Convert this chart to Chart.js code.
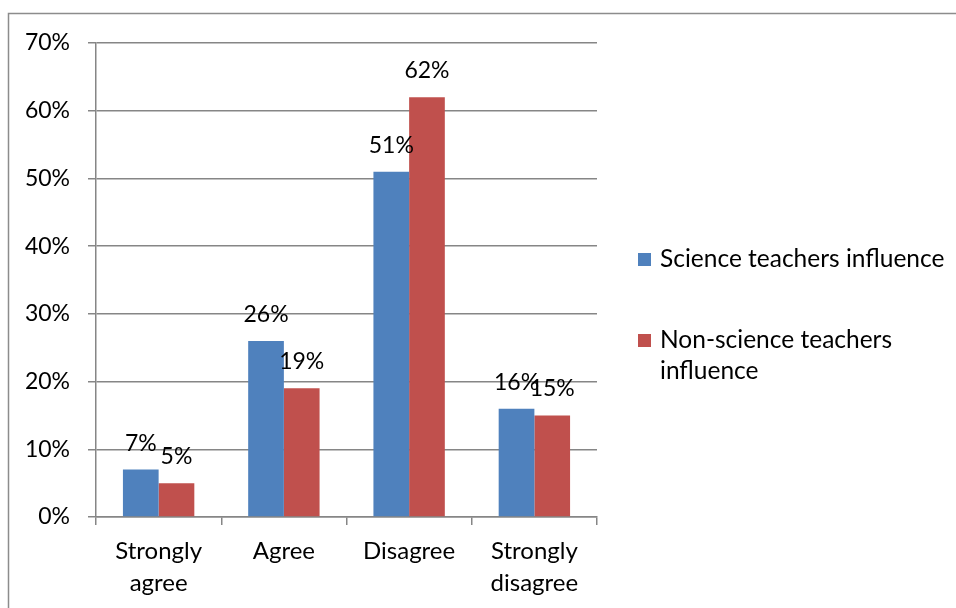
<!DOCTYPE html>
<html>
<head>
<meta charset="utf-8">
<script src="https://cdn.jsdelivr.net/npm/chart.js@4.4.0/dist/chart.umd.min.js"></script>
<style>
  html, body { margin: 0; padding: 0; background: #fff; }
  #wrap { position: relative; width: 956px; height: 608px; }
</style>
</head>
<body>
<div id="wrap"><canvas id="c" width="956" height="608"></canvas></div>
<script>
const categories = [["Strongly", "agree"], "Agree", "Disagree", ["Strongly", "disagree"]];
const seriesNames = ["Science teachers influence", "Non-science teachers influence"];
const legendLines = [["Science teachers influence"], ["Non-science teachers", "influence"]];
const scienceValues = [0.07, 0.26, 0.51, 0.16];
const nonScienceValues = [0.05, 0.19, 0.62, 0.15];
const yTicks = [0, 0.1, 0.2, 0.3, 0.4, 0.5, 0.6, 0.7];
const colors = ["#4F81BD", "#C0504D"];

const FONT = "Lato, 'Open Sans', sans-serif";
const GRID = "#868686";

const framePlugin = {
  id: 'frame',
  beforeDraw(chart) {
    const ctx = chart.ctx;
    ctx.save();
    ctx.fillStyle = '#fff';
    ctx.fillRect(0, 0, chart.width, chart.height);
    ctx.strokeStyle = '#8c8c8c';
    ctx.lineWidth = 1.5;
    ctx.strokeRect(8.5, 13.5, 1200, 1200);
    ctx.restore();
  }
};

const labelPlugin = {
  id: 'barLabels',
  afterDatasetsDraw(chart) {
    const ctx = chart.ctx;
    ctx.save();
    ctx.font = "23px " + FONT;
    ctx.fillStyle = '#000';
    ctx.textAlign = 'center';
    ctx.textBaseline = 'alphabetic';
    chart.data.datasets.forEach((ds, i) => {
      const meta = chart.getDatasetMeta(i);
      meta.data.forEach((bar, j) => {
        const v = ds.data[j];
        ctx.fillText(Math.round(v * 100) + '%', bar.x, bar.y - 19);
      });
    });
    ctx.restore();
  }
};

const legendPlugin = {
  id: 'customLegend',
  afterDraw(chart) {
    const ctx = chart.ctx;
    ctx.save();
    ctx.font = "24.5px " + FONT;
    ctx.textBaseline = 'middle';
    ctx.textAlign = 'left';
    const tops = [259, 340];
    chart.data.datasets.forEach((ds, i) => {
      const y = tops[i];
      ctx.fillStyle = ds.backgroundColor;
      ctx.fillRect(638, y - 6, 13, 13);
      ctx.fillStyle = '#000';
      legendLines[i].forEach((line, k) => {
        ctx.fillText(line, 660, y + k * 31);
      });
    });
    ctx.restore();
  }
};

new Chart(document.getElementById('c'), {
  type: 'bar',
  data: {
    labels: categories,
    datasets: [
      { label: seriesNames[0], data: scienceValues, backgroundColor: colors[0], borderWidth: 0 },
      { label: seriesNames[1], data: nonScienceValues, backgroundColor: colors[1], borderWidth: 0 }
    ]
  },
  options: {
    responsive: false,
    animation: false,
    devicePixelRatio: 1,
    layout: { padding: { left: 0, top: 43, right: 359, bottom: 0 } },
    plugins: { legend: { display: false }, tooltip: { enabled: false } },
    datasets: { bar: { barPercentage: 1.0, categoryPercentage: 0.57 } },
    scales: {
      x: {
        grid: { offset: true, drawOnChartArea: false, color: GRID, tickLength: 8, lineWidth: 1.5 },
        border: { color: GRID, width: 1.5 },
        ticks: { color: '#000', font: { family: FONT, size: 24, lineHeight: 1.3 }, padding: 11, maxRotation: 0, autoSkip: false },
        afterFit(scale) { scale.height = 91; }
      },
      y: {
        min: 0, max: 0.7,
        afterBuildTicks(scale) { scale.ticks = yTicks.map(v => ({ value: v })); },
        grid: { color: GRID, tickLength: 8, lineWidth: 1.5 },
        border: { color: GRID, width: 1.5 },
        ticks: {
          color: '#000', font: { family: FONT, size: 23 }, padding: 18,
          callback: v => Math.round(v * 100) + '%'
        },
        afterFit(scale) { scale.width = 96; }
      }
    }
  },
  plugins: [framePlugin, labelPlugin, legendPlugin]
});
</script>
</body>
</html>
